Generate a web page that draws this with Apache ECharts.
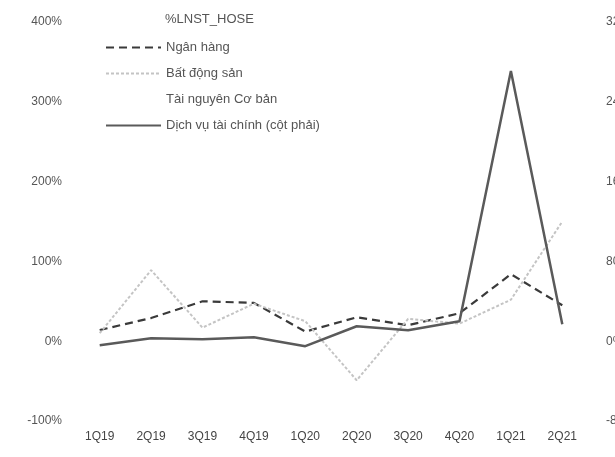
<!DOCTYPE html>
<html>
<head>
<meta charset="utf-8">
<script src="https://cdn.jsdelivr.net/npm/echarts@6/dist/echarts.min.js"></script>
<style>
  html, body { margin: 0; padding: 0; background: #fff; }
  #main { width: 615px; height: 457px; }
</style>
</head>
<body>
<div id="main"></div>
<script>
// du lieu doc tu hinh
var categories = ["1Q19", "2Q19", "3Q19", "4Q19", "1Q20", "2Q20", "3Q20", "4Q20", "1Q21", "2Q21"];
var nganHang = [14, 29, 50, 48, 12, 30, 20, 35, 84, 45];
var batDongSan = [10, 89, 17, 47, 25, -49, 28, 22, 52, 150];
var taiNguyen = []; // khong thay duong tren hinh
var dichVuTaiChinh = [-4, 3, 2, 4, -5, 15, 11, 20, 271, 17]; // cot phai
var leftTicks = [-100, 400, 100];
var rightTicks = [-80, 320, 80];

var font = "Liberation Sans, Arial, sans-serif";
var myChart = echarts.init(document.getElementById("main"));

myChart.setOption({
  animation: false,
  backgroundColor: "#fff",
  title: {
    text: "%LNST_HOSE",
    left: 160,
    top: 8,
    textStyle: { fontFamily: font, fontSize: 13, fontWeight: "normal", color: "#555" }
  },
  legend: {
    orient: "vertical",
    left: 100,
    top: 36,
    itemWidth: 55,
    itemHeight: 14,
    itemGap: 13,
    itemStyle: { opacity: 0 },
    textStyle: { fontFamily: font, fontSize: 13, color: "#555" },
    data: ["Ngân hàng", "Bất động sản", "Tài nguyên Cơ bản", "Dịch vụ tài chính (cột phải)"]
  },
  grid: { left: 74, right: 27, top: 22, bottom: 36, outerBoundsMode: "none" },
  xAxis: {
    type: "category",
    data: categories,
    axisLine: { show: false },
    axisTick: { show: false },
    axisLabel: { fontFamily: font, fontSize: 12, color: "#444", margin: 10 }
  },
  yAxis: [
    {
      type: "value",
      min: leftTicks[0],
      max: leftTicks[1],
      interval: leftTicks[2],
      splitLine: { show: false },
      axisLine: { show: false },
      axisTick: { show: false },
      axisLabel: { fontFamily: font, fontSize: 12, color: "#555", margin: 12, formatter: "{value}%" }
    },
    {
      type: "value",
      position: "right",
      min: rightTicks[0],
      max: rightTicks[1],
      interval: rightTicks[2],
      splitLine: { show: false },
      axisLine: { show: false },
      axisTick: { show: false },
      axisLabel: { fontFamily: font, fontSize: 12, color: "#555", margin: 18, formatter: "{value}%" }
    }
  ],
  series: [
    {
      name: "Ngân hàng",
      type: "line",
      data: nganHang,
      symbol: "none",
      lineStyle: { color: "#3a3a3a", width: 2.2, type: [8, 5] },
      itemStyle: { color: "#3a3a3a" }
    },
    {
      name: "Bất động sản",
      type: "line",
      data: batDongSan,
      symbol: "none",
      lineStyle: { color: "#c4c4c4", width: 2, type: [3, 2] },
      itemStyle: { color: "#c4c4c4" }
    },
    {
      name: "Tài nguyên Cơ bản",
      type: "line",
      data: taiNguyen,
      symbol: "none",
      lineStyle: { color: "#ffffff", width: 2 },
      itemStyle: { color: "#ffffff" }
    },
    {
      name: "Dịch vụ tài chính (cột phải)",
      type: "line",
      yAxisIndex: 1,
      data: dichVuTaiChinh,
      symbol: "none",
      lineStyle: { color: "#5a5a5a", width: 2.5 },
      itemStyle: { color: "#5a5a5a" }
    }
  ]
});
</script>
</body>
</html>
